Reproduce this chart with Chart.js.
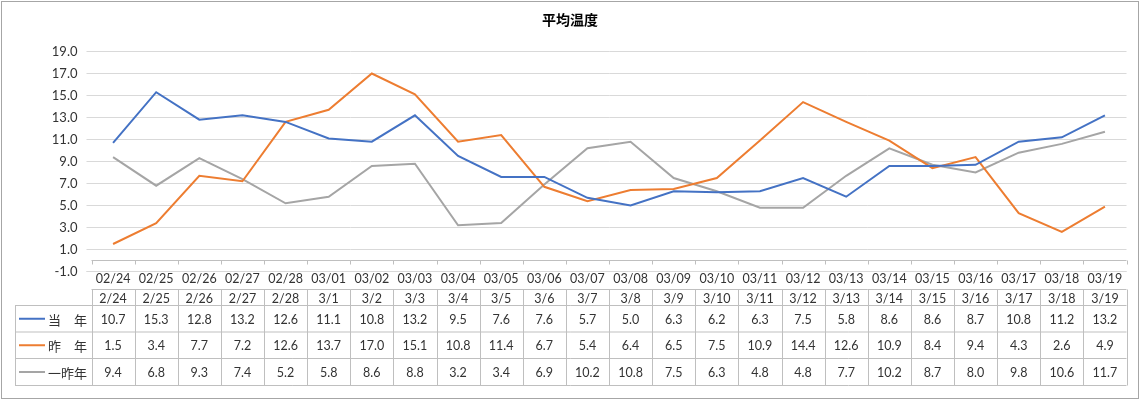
<!DOCTYPE html>
<html>
<head>
<meta charset="utf-8">
<script src="https://cdn.jsdelivr.net/npm/chart.js@4/dist/chart.umd.min.js"></script>
<style>
  html, body { margin: 0; padding: 0; background: #fff; }
  canvas { display: block; }
</style>
</head>
<body>
<canvas id="chart" width="1141" height="401"></canvas>
<script>
// 平均温度 – data
const axisLabels  = ['02/24','02/25','02/26','02/27','02/28','03/01','03/02','03/03','03/04','03/05','03/06','03/07',
                     '03/08','03/09','03/10','03/11','03/12','03/13','03/14','03/15','03/16','03/17','03/18','03/19'];
const tableLabels = ['2/24','2/25','2/26','2/27','2/28','3/1','3/2','3/3','3/4','3/5','3/6','3/7',
                     '3/8','3/9','3/10','3/11','3/12','3/13','3/14','3/15','3/16','3/17','3/18','3/19'];
const thisYear    = [10.7,15.3,12.8,13.2,12.6,11.1,10.8,13.2,9.5,7.6,7.6,5.7,5.0,6.3,6.2,6.3,7.5,5.8,8.6,8.6,8.7,10.8,11.2,13.2];
const lastYear    = [1.5,3.4,7.7,7.2,12.6,13.7,17.0,15.1,10.8,11.4,6.7,5.4,6.4,6.5,7.5,10.9,14.4,12.6,10.9,8.4,9.4,4.3,2.6,4.9];
const twoYearsAgo = [9.4,6.8,9.3,7.4,5.2,5.8,8.6,8.8,3.2,3.4,6.9,10.2,10.8,7.5,6.3,4.8,4.8,7.7,10.2,8.7,8.0,9.8,10.6,11.7];
const seriesNames = ['当　年', '昨　年', '一昨年'];
const seriesColors = ['#4472C4', '#ED7D31', '#A5A5A5'];

const FONT = "Lato, 'Noto Sans CJK JP', sans-serif";
const TEXT = '#333333';

// bottom gridline + zero axis, under the lines
const axisPlugin = {
  id: 'zeroAxis',
  beforeDatasetsDraw(chart) {
    const c = chart.ctx, ys = chart.scales.y;
    const { left, right } = chart.chartArea;
    const colW = (right - left) / axisLabels.length;
    c.save();
    c.lineWidth = 1;
    // -1.0 gridline
    const yb = Math.round(ys.getPixelForValue(-1)) - 0.5;
    c.strokeStyle = '#d9d9d9';
    c.beginPath();
    c.moveTo(left - 5, yb); c.lineTo(right, yb);
    c.stroke();
    // x axis line at 0 with tick marks
    const y0 = Math.round(ys.getPixelForValue(0)) - 0.5;
    c.strokeStyle = '#bfbfbf';
    c.beginPath();
    c.moveTo(left, y0); c.lineTo(right, y0);
    for (let i = 0; i <= axisLabels.length; i++) {
      const bx = Math.round(left + i * colW) + 0.5;
      c.moveTo(bx, y0); c.lineTo(bx, y0 + 4);
    }
    c.stroke();
    c.restore();
  }
};

// data table + title + outer frame
const tablePlugin = {
  id: 'dataTable',
  afterDraw(chart) {
    const c = chart.ctx, xs = chart.scales.x;
    const left = chart.chartArea.left, right = chart.chartArea.right;
    const colW = (right - left) / tableLabels.length;
    const rows = [289.5, 305.5, 332, 358.5, 385.5];
    const keyLeft = 15;
    c.save();

    // table grid
    c.strokeStyle = '#bfbfbf';
    c.lineWidth = 1;
    c.beginPath();
    c.moveTo(left, rows[0]); c.lineTo(right, rows[0]);
    for (let r = 1; r < rows.length; r++) {
      c.moveTo(keyLeft, rows[r]); c.lineTo(right, rows[r]);
    }
    c.moveTo(keyLeft + 0.5, rows[1]); c.lineTo(keyLeft + 0.5, rows[4]);
    for (let i = 0; i <= tableLabels.length; i++) {
      const bx = Math.round(left + i * colW) + 0.5;
      c.moveTo(bx, rows[0]); c.lineTo(bx, rows[4]);
    }
    c.stroke();

    // cell texts
    c.fillStyle = TEXT;
    c.font = '12.5px ' + FONT;
    c.textAlign = 'center';
    c.textBaseline = 'middle';
    const data = [thisYear, lastYear, twoYearsAgo];
    tableLabels.forEach((lab, i) => {
      const cx = xs.getPixelForValue(i);
      c.fillText(lab, cx, (rows[0] + rows[1]) / 2 + 1);
      data.forEach((arr, r) => {
        c.fillText(arr[i].toFixed(1), cx, (rows[r + 1] + rows[r + 2]) / 2 + 1);
      });
    });

    // legend keys
    seriesNames.forEach((name, r) => {
      const cy = (rows[r + 1] + rows[r + 2]) / 2;
      c.strokeStyle = seriesColors[r];
      c.lineWidth = 2;
      c.beginPath();
      c.moveTo(19, cy); c.lineTo(45, cy);
      c.stroke();
      c.fillStyle = TEXT;
      c.font = "13px 'Noto Sans CJK JP', sans-serif";
      c.textAlign = 'right';
      c.fillText(name, 87, cy + 1);
    });

    // title
    c.fillStyle = '#000';
    c.font = "bold 14px 'Noto Sans CJK JP', sans-serif";
    c.textAlign = 'center';
    c.fillText('平均温度', 570, 20);

    // outer frame
    c.strokeStyle = '#a6a6a6';
    c.lineWidth = 1;
    c.strokeRect(1.5, 1.5, 1137, 397);
    c.restore();
  }
};

new Chart(document.getElementById('chart'), {
  type: 'line',
  data: {
    labels: axisLabels,
    datasets: [
      { label: seriesNames[0], data: thisYear,    borderColor: seriesColors[0] },
      { label: seriesNames[1], data: lastYear,    borderColor: seriesColors[1] },
      { label: seriesNames[2], data: twoYearsAgo, borderColor: seriesColors[2] },
    ].map(d => Object.assign(d, { borderWidth: 2, pointRadius: 0, tension: 0, fill: false }))
  },
  options: {
    responsive: false,
    animation: false,
    layout: { padding: { left: 0, right: 14.5, top: 51.5, bottom: 0 } },
    plugins: { legend: { display: false }, title: { display: false }, tooltip: { enabled: false } },
    scales: {
      x: {
        offset: true,
        grid: { display: false, drawTicks: false },
        border: { display: false },
        ticks: { color: TEXT, font: { family: FONT, size: 12.5 }, padding: 0, maxRotation: 0, autoSkip: false },
        afterFit: s => { s.height = 129.5; }
      },
      y: {
        min: -1, max: 19,
        ticks: { stepSize: 2, callback: v => v.toFixed(1), color: TEXT, font: { family: FONT, size: 13 }, padding: 9 },
        grid: { color: '#d9d9d9', tickLength: 5, drawTicks: true },
        border: { display: false },
        afterFit: s => { s.width = 91.5; }
      }
    }
  },
  plugins: [axisPlugin, tablePlugin]
});
</script>
</body>
</html>
